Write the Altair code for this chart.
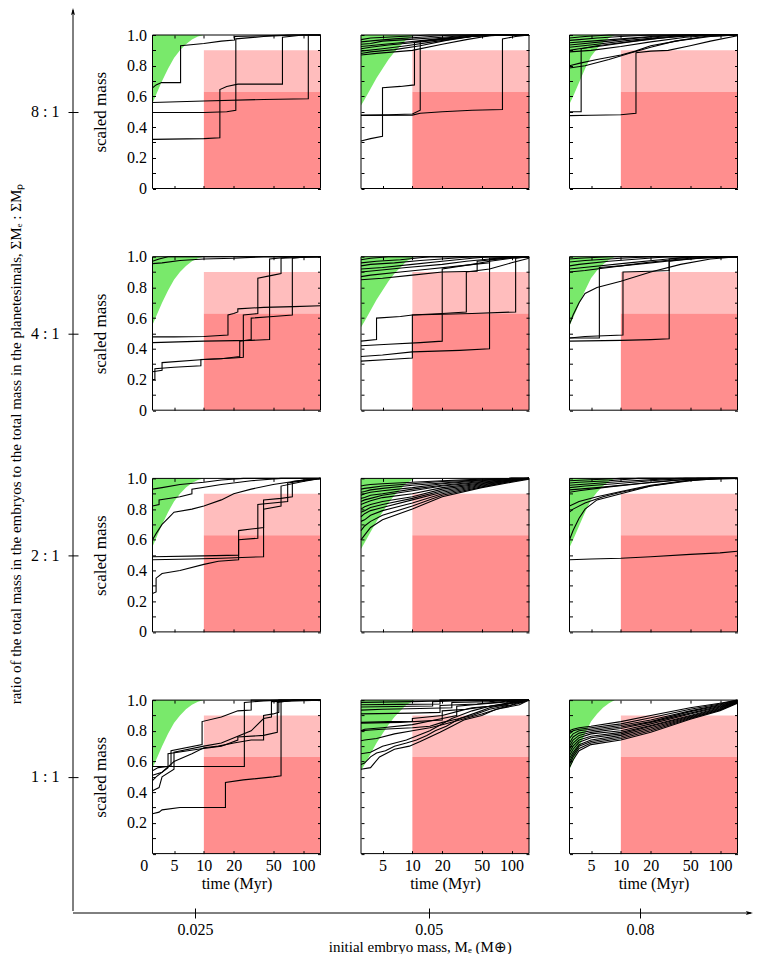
import math
import altair as alt
import pandas as pd

# ---------------- data ----------------
RATIOS = ["8 : 1", "4 : 1", "2 : 1", "1 : 1"]
MASSES = [0.025, 0.05, 0.08]
TIME_TICKS = [5, 10, 20, 50, 100]
T_RANGE = [1.4, 150]
RED_T = [10, 150]
DARK_M = [0.0, 0.63]
LIGHT_M = [0.63, 0.90]

GREEN_025 = [(1.4, .555), (2, .61), (3, .70), (4, .78), (5, .85), (6, .90), (7, .94), (8, .97), (9, .99), (10, 1.0)]
GREEN_05 = [(1.4, .54), (2, .58), (3, .65), (4, .72), (5, .78), (6, .84), (7, .89), (8, .93), (9, .97), (10, .99), (10.5, 1.0)]
GREEN_08 = [(1.4, .55), (2, .60), (3, .69), (4, .78), (5, .86), (6, .91), (7, .95), (8, .98), (9, 1.0)]

R8_025 = [
    [(1.4, .655), (2, .675), (2.9, .69), (6.1, .69), (6.1, .93), (10, .945), (15, .96), (20.4, .967), (20.4, .99), (40, .995), (70, 1), (150, 1)],
    [(1.4, .56), (10, .57), (40, .58), (113, .585), (113, 1), (150, 1)],
    [(1.4, .495), (10, .495), (17, .50), (21, .51), (21, .975), (40, .99), (80, 1), (150, 1)],
    [(1.4, .32), (10, .325), (14.5, .33), (14.5, .645), (17, .665), (22, .68), (62, .68), (62, .985), (100, 1), (150, 1)],
]
R8_05 = [
    [(1.4, .97), (3, .98), (8, .99), (15, 1), (150, 1)],
    [(1.4, .955), (4, .965), (7, .975), (12, .985), (25, 1), (150, 1)],
    [(1.4, .94), (3, .945), (5, .96), (9, .97), (20, .985), (40, 1), (150, 1)],
    [(1.4, .925), (4, .935), (8, .95), (15, .97), (30, .99), (60, 1), (150, 1)],
    [(1.4, .91), (3, .92), (6, .935), (10, .95), (20, .97), (35, .985), (50, 1), (150, 1)],
    [(1.4, .895), (5, .91), (9, .93), (16, .955), (30, .98), (45, 1), (150, 1)],
    [(1.4, .88), (3, .89), (7, .905), (12, .93), (22, .965), (40, .99), (70, 1), (150, 1)],
    [(1.4, .87), (4, .88), (10, .90), (20, .94), (35, .97), (60, .995), (90, 1), (150, 1)],
    [(1.4, .31), (3, .325), (5, .34), (5, .657), (8, .665), (10.5, .675), (10.5, .955), (20, .975), (40, .99), (80, 1), (150, 1)],
    [(1.4, .478), (6, .48), (10, .485), (12, .51), (12, .96), (25, .98), (50, .995), (150, 1)],
    [(1.4, .476), (10, .478), (12, .49), (20, .50), (40, .51), (81, .515), (81, .975), (110, .99), (150, 1)],
]
R8_08 = [
    [(1.4, .50), (3.35, .50), (3.35, .91), (6, .93), (10, .95), (20, .975), (40, .99), (80, 1), (150, 1)],
    [(1.4, .475), (5, .477), (10, .48), (14.2, .49), (14.2, .885), (20, .895), (30, .90), (50, .93), (80, .96), (150, .995)],
    [(1.4, .80), (3, .815), (6, .84), (10, .87), (14, .895), (20, .93), (40, .965), (80, .99), (150, 1)],
    [(1.4, .785), (4, .80), (8, .84), (12, .88), (20, .92), (35, .96), (70, .99), (150, 1)],
    [(1.4, .98), (4, .99), (8, 1), (150, 1)],
    [(1.4, .965), (3, .97), (6, .98), (10, .99), (20, 1), (150, 1)],
    [(1.4, .95), (5, .96), (10, .975), (20, .99), (35, 1), (150, 1)],
    [(1.4, .935), (4, .945), (8, .96), (15, .98), (30, .995), (50, 1), (150, 1)],
    [(1.4, .92), (6, .94), (12, .965), (25, .985), (50, 1), (150, 1)],
    [(1.4, .90), (3, .91), (7, .93), (14, .96), (30, .985), (60, 1), (150, 1)],
    [(1.4, .89), (5, .90), (10, .925), (20, .955), (45, .985), (90, 1), (150, 1)],
]
R4_025 = [
    [(1.4, .97), (2.5, .985), (4, 1), (150, 1)],
    [(1.4, .955), (3, .96), (6, .975), (10, .985), (20, .99), (40, 1), (150, 1)],
    [(1.4, .478), (5, .478), (10, .48), (17.5, .49), (17.5, .62), (20, .63), (22, .64), (22, .66), (40, .67), (80, .675), (150, .68)],
    [(1.4, .44), (10, .45), (30, .455), (46, .46), (46, .985), (80, 1), (150, 1)],
    [(1.4, .20), (1.8, .20), (1.8, .27), (5, .28), (9.5, .29), (9.5, .33), (15, .335), (23, .35), (23, .45), (30, .46), (30, .60), (50, .61), (78, .62), (78, .99), (110, 1), (150, 1)],
    [(1.4, .25), (3, .26), (3, .31), (10, .33), (20, .34), (25, .345), (25, .62), (35, .63), (35, .86), (50, .88), (60, .89), (60, .99), (150, 1)],
]
R4_05 = [
    [(1.4, .45), (4, .46), (4, .60), (8, .61), (10, .62), (40, .63), (110, .64), (110, .99), (150, 1)],
    [(1.4, .42), (6, .43), (12, .44), (20, .45), (20, .92), (40, .95), (60, .97), (100, .99), (150, 1)],
    [(1.4, .35), (5, .36), (10, .38), (30, .39), (60, .40), (60, .98), (100, .995), (150, 1)],
    [(1.4, .32), (6, .33), (10, .34), (10, .62), (20, .63), (35, .64), (35, .90), (60, .92), (100, .96), (150, .99)],
    [(1.4, .98), (3, .99), (6, 1), (150, 1)],
    [(1.4, .96), (4, .97), (8, .98), (15, 1), (150, 1)],
    [(1.4, .94), (3, .95), (7, .96), (12, .975), (25, .99), (40, 1), (150, 1)],
    [(1.4, .92), (5, .93), (10, .95), (20, .97), (40, .99), (60, 1), (150, 1)],
    [(1.4, .90), (4, .91), (9, .93), (20, .95), (35, .97), (60, .985), (100, 1), (150, 1)],
    [(1.4, .87), (3, .88), (8, .90), (15, .92), (30, .94), (60, .96), (60, .99), (150, 1)],
    [(1.4, .85), (5, .86), (10, .88), (20, .90), (45, .905), (45, .97), (90, .99), (150, 1)],
]
R4_08 = [
    [(1.4, .47), (6.4, .47), (6.4, .93), (10, .94), (20, .96), (40, .98), (80, .995), (150, 1)],
    [(1.4, .45), (10, .455), (20, .46), (30.7, .465), (30.7, .985), (60, 1), (150, 1)],
    [(1.4, .47), (4, .48), (10.5, .49), (10.5, .90), (20, .905), (30.7, .91), (30.7, .97), (60, .99), (150, 1)],
    [(1.4, .56), (2, .62), (3, .70), (4, .76), (6, .80), (10, .84), (20, .90), (40, .95), (80, .985), (150, 1)],
    [(1.4, .985), (3, .99), (8, 1), (150, 1)],
    [(1.4, .965), (4, .975), (10, .99), (20, 1), (150, 1)],
    [(1.4, .94), (3, .95), (8, .97), (15, .985), (30, 1), (150, 1)],
    [(1.4, .92), (5, .935), (12, .96), (25, .98), (50, 1), (150, 1)],
    [(1.4, .90), (4, .91), (10, .94), (20, .965), (40, .985), (80, 1), (150, 1)],
]
R2_025 = [
    [(1.4, .93), (3, .94), (6, .96), (10, .975), (15, .99), (25, 1), (150, 1)],
    [(1.4, .82), (2.5, .83), (2.5, .86), (6, .88), (8, .90), (8, .93), (15, .96), (30, .985), (60, 1), (150, 1)],
    [(1.4, .60), (2, .64), (3, .70), (4, .74), (5, .78), (8, .80), (10, .82), (15, .86), (20, .90), (30, .93), (50, .96), (100, .99), (150, 1)],
    [(1.4, .49), (10, .495), (22.4, .50), (22.4, .66), (30, .67), (40, .68), (40, .86), (60, .87), (78, .88), (78, .98), (150, 1)],
    [(1.4, .47), (8, .475), (15, .48), (40, .49), (40, .80), (60, .82), (60, .95), (100, .98), (150, 1)],
    [(1.4, .25), (2, .26), (2, .35), (3, .38), (6, .40), (10, .44), (14, .46), (22.4, .47), (22.4, .60), (35, .61), (35, .83), (70, .85), (70, .97), (150, 1)],
]
R2_05 = [
    [(1.4, .95), (2, .955), (3, .96), (5, .965), (10, .975), (20, .985), (50, .995), (100, 1), (150, 1)],
    [(1.4, .93), (2, .935), (3, .94), (5, .95), (10, .965), (20, .98), (50, .99), (100, 1), (150, 1)],
    [(1.4, .91), (2, .915), (3, .925), (5, .935), (10, .955), (20, .97), (50, .99), (100, 1), (150, 1)],
    [(1.4, .89), (2, .90), (3, .91), (5, .92), (10, .94), (20, .965), (50, .985), (100, 1), (150, 1)],
    [(1.4, .87), (2, .875), (3, .89), (5, .90), (10, .93), (20, .955), (50, .98), (100, .995), (150, 1)],
    [(1.4, .85), (2, .86), (3, .87), (5, .89), (10, .92), (20, .95), (50, .975), (100, .995), (150, 1)],
    [(1.4, .83), (2, .84), (3, .855), (5, .875), (10, .90), (20, .94), (50, .97), (100, .99), (150, 1)],
    [(1.4, .80), (2, .815), (3, .83), (5, .85), (10, .88), (20, .93), (50, .965), (100, .99), (150, 1)],
    [(1.4, .78), (2, .79), (3, .81), (5, .83), (10, .87), (20, .92), (50, .96), (100, .985), (150, 1)],
    [(1.4, .75), (2, .77), (3, .79), (5, .81), (10, .86), (20, .91), (50, .955), (100, .985), (150, 1)],
    [(1.4, .72), (2, .73), (3, .76), (5, .79), (10, .84), (20, .90), (50, .95), (100, .98), (150, 1)],
    [(1.4, .66), (2, .69), (3, .72), (5, .76), (10, .82), (20, .89), (50, .945), (100, .98), (150, 1)],
    [(1.4, .60), (2, .63), (3, .68), (5, .73), (10, .80), (20, .88), (50, .94), (100, .975), (150, .995)],
]
R2_08 = [
    [(1.4, .60), (2, .66), (3, .74), (4, .80), (6, .86), (10, .90), (20, .95), (50, .985), (100, 1), (150, 1)],
    [(1.4, .78), (2, .80), (4, .84), (7, .88), (10, .91), (20, .95), (40, .98), (80, 1), (150, 1)],
    [(1.4, .82), (3, .85), (6, .88), (10, .915), (20, .955), (50, .99), (150, 1)],
    [(1.4, .47), (5, .475), (10, .48), (20, .49), (50, .505), (100, .515), (150, .525)],
    [(1.4, .985), (4, .99), (10, 1), (150, 1)],
    [(1.4, .97), (3, .975), (8, .985), (15, 1), (150, 1)],
    [(1.4, .955), (5, .965), (10, .98), (25, .995), (40, 1), (150, 1)],
    [(1.4, .94), (4, .95), (9, .965), (20, .985), (45, 1), (150, 1)],
    [(1.4, .925), (6, .94), (12, .96), (30, .985), (60, 1), (150, 1)],
    [(1.4, .91), (3, .92), (8, .945), (18, .97), (40, .99), (80, 1), (150, 1)],
]
R1_025 = [
    [(1.4, .567), (25.6, .567), (25.6, .985), (40, .995), (60, 1), (150, 1)],
    [(1.4, .54), (2.35, .56), (4.5, .57), (4.5, .67), (9.7, .71), (9.7, .86), (15, .89), (22, .93), (30, .935), (30, 1), (150, 1)],
    [(1.4, .51), (3, .53), (5, .60), (8, .65), (10, .69), (14, .70), (20, .72), (30, .74), (40, .74), (40, .90), (50, .91), (57, .92), (57, 1), (150, 1)],
    [(1.4, .475), (2, .50), (4, .56), (4, .65), (9, .68), (15, .70), (22, .74), (22, .76), (40, .77), (55, .79), (55, .985), (80, 1), (150, 1)],
    [(1.4, .41), (2.5, .43), (3, .50), (5, .55), (5, .66), (10, .70), (15, .72), (30, .80), (40, .88), (48, .89), (48, .99), (150, 1)],
    [(1.4, .26), (2.5, .27), (3, .285), (6, .30), (16.5, .30), (16.5, .463), (25, .48), (50, .50), (60, .507), (60, .99), (80, 1), (150, 1)],
]
R1_05 = [
    [(1.4, .985), (10, .99), (19, .995), (19, 1), (150, 1)],
    [(1.4, .97), (8, .972), (19, .975), (19, 1), (150, 1)],
    [(1.4, .955), (10, .96), (16, .962), (16, .99), (40, 1), (150, 1)],
    [(1.4, .935), (5, .94), (12, .945), (25, .95), (25, .985), (60, .99), (100, 1), (150, 1)],
    [(1.4, .91), (10, .915), (19, .92), (19, .965), (45, .975), (70, .985), (110, 1), (150, 1)],
    [(1.4, .855), (6, .86), (10, .862), (10, .88), (20, .90), (30, .93), (40, .95), (60, .96), (100, .98), (130, .985), (130, 1), (150, 1)],
    [(1.4, .85), (8, .855), (20, .87), (20, .93), (35, .94), (60, .96), (90, .965), (90, .99), (150, 1)],
    [(1.4, .80), (3, .805), (5, .81), (10, .82), (15, .83), (20, .855), (30, .88), (40, .90), (60, .94), (100, .97), (140, 1), (150, 1)],
    [(1.4, .735), (2, .74), (4, .75), (7, .78), (10, .80), (15, .82), (20, .84), (30, .87), (50, .91), (80, .95), (120, .98), (150, 1)],
    [(1.4, .58), (2, .59), (3, .63), (4, .655), (5.5, .67), (7, .70), (9, .72), (11, .74), (14, .77), (17, .80), (22, .83), (30, .88), (45, .92), (60, .95), (110, .985), (140, 1), (150, 1)],
    [(1.4, .55), (3, .56), (4.5, .63), (7, .68), (9.5, .70), (12, .73), (15, .76), (19, .79), (25, .83), (33, .87), (50, .90), (70, .94), (120, .97), (150, 1)],
    [(1.4, .65), (3, .66), (5, .70), (9, .74), (15, .80), (25, .88), (40, .93), (60, .96), (100, .985), (150, 1)],
    [(1.4, .80), (2, .81), (5, .82), (10, .84), (20, .88), (28, .90), (28, .96), (50, .975), (100, .99), (150, 1)],
]
R1_08 = [
    [(1.4, .80), (2, .81), (3, .82), (5, .83), (10, .86), (20, .90), (50, .95), (100, .98), (150, 1)],
    [(1.4, .78), (2, .80), (3, .81), (5, .82), (10, .845), (20, .885), (50, .94), (100, .975), (150, 1)],
    [(1.4, .75), (2, .78), (3, .80), (5, .81), (10, .835), (20, .87), (50, .93), (100, .97), (150, .995)],
    [(1.4, .72), (2, .76), (3, .785), (5, .80), (10, .825), (20, .86), (50, .925), (100, .965), (150, .995)],
    [(1.4, .70), (2, .74), (3, .77), (5, .79), (10, .815), (20, .855), (50, .915), (100, .96), (150, .99)],
    [(1.4, .68), (2, .72), (3, .755), (5, .78), (10, .80), (20, .845), (50, .91), (100, .955), (150, .99)],
    [(1.4, .66), (2, .70), (3, .74), (5, .765), (10, .79), (20, .835), (50, .90), (100, .95), (150, .99)],
    [(1.4, .64), (2, .68), (3, .725), (5, .755), (10, .78), (20, .83), (50, .895), (100, .945), (150, .99)],
    [(1.4, .62), (2, .66), (3, .71), (5, .74), (10, .77), (20, .82), (50, .89), (100, .94), (150, .985)],
    [(1.4, .60), (2, .645), (3, .70), (5, .73), (10, .76), (20, .81), (50, .885), (100, .935), (150, .985)],
    [(1.4, .58), (2, .63), (3, .685), (5, .72), (10, .75), (20, .80), (50, .88), (100, .935), (150, .985)],
    [(1.4, .56), (2, .61), (3, .67), (5, .71), (10, .74), (20, .79), (50, .875), (100, .93), (150, .98)],
]

PANELS = [
    [R8_025, R8_05, R8_08],
    [R4_025, R4_05, R4_08],
    [R2_025, R2_05, R2_08],
    [R1_025, R1_05, R1_08],
]
GREENS = [GREEN_025, GREEN_05, GREEN_08]

TITLE_Y = "ratio of the total mass in the embryos to the total mass in the planetesimals, ΣMₑ : ΣMₚ"
TITLE_X = "initial embryo mass, Mₑ (M⊕)"

# ---------------- style / layout ----------------
FONT = "Liberation Serif"
GREEN = "#79e96b"
PINK = "#ffbdbd"
RED = "#ff8e8e"
TICK_FS = 16
PW, PH = 168, 153.5
COL_SP, ROW_SP = 40.5, 67.7
GRID_H = 4 * PH + 3 * ROW_SP
LW = 79 - COL_SP          # width of the cells that carry the ratio axis
ARROW_UP = 27             # how far the vertical arrow rises above the top panel
BOT_GAP = 58.9            # distance from bottom panels to the horizontal arrow
ARROW_Y = BOT_GAP - ROW_SP
BH, BW = 1, 680
K = 16.6  # px-per-decade factor of the hybrid linear/log time axis


def u(t):
    return t if t <= 10 else 10 + K * math.log10(t / 10)


def uexpr(f):
    return f"datum.{f} <= 10 ? datum.{f} : 10 + {K} * log(datum.{f} / 10) / LN10"


XDOM = [u(T_RANGE[0]), u(T_RANGE[1])]
XVALS = [u(v) for v in TIME_TICKS]
YVALS = [round(i * 0.1, 1) for i in range(11)]
XLABEL = f"datum.value <= 10.01 ? format(datum.value, 'd') : format(round(10 * pow(10, (datum.value - 10) / {K})), 'd')"


def ylabel(show_zero):
    z = "'0'" if show_zero else "''"
    return f"round(datum.value * 10) % 2 == 1 ? '' : (datum.value < 0.05 ? {z} : format(datum.value, '.1f'))"


def curves_df(curves):
    recs = []
    for ci, pts in enumerate(curves):
        for i, (t, m) in enumerate(pts):
            recs.append({"curve": ci, "i": i, "t": t, "m": m})
    return pd.DataFrame(recs)


def panel(ri, ci):
    first_col = ci == 0
    last_row = ri == 3
    xs = alt.Scale(domain=XDOM, nice=False, zero=False)
    ys = alt.Scale(domain=[0, 1], nice=False, zero=False)
    common = dict(domain=False, grid=False, ticks=True, tickSize=3, offset=-3,
                  tickColor="black", zindex=1, labelOverlap=False, labelBound=False)
    xb = alt.Axis(orient="bottom", values=XVALS, labels=last_row, labelExpr=XLABEL,
                  labelPadding=4, labelFontSize=TICK_FS, titlePadding=2, titleFontSize=16,
                  title="time (Myr)" if last_row else None, **common)
    xt = alt.Axis(orient="top", values=XVALS, labels=False, title=None, **common)
    yl = alt.Axis(orient="left", values=YVALS, labels=first_col, labelExpr=ylabel(not last_row),
                  labelPadding=6, labelFontSize=TICK_FS, titlePadding=17, titleFontSize=17,
                  title="scaled mass" if first_col else None, **common)
    yr = alt.Axis(orient="right", values=YVALS, labels=False, title=None, **common)

    g = pd.DataFrame(GREENS[ci], columns=["t", "m"])
    g["top"] = 1.0
    green = alt.Chart(g).transform_calculate(u=uexpr("t")).mark_area(color=GREEN).encode(
        x=alt.X("u:Q", scale=xs, axis=xb),
        y=alt.Y("m:Q", scale=ys, axis=yl),
        y2="top:Q",
    )
    rd = pd.DataFrame({"kind": ["light", "dark"], "t0": [RED_T[0]] * 2, "t1": [RED_T[1]] * 2,
                       "m0": [LIGHT_M[0], DARK_M[0]], "m1": [LIGHT_M[1], DARK_M[1]]})
    reds = alt.Chart(rd).transform_calculate(u0=uexpr("t0"), u1=uexpr("t1")).mark_rect().encode(
        x=alt.X("u0:Q", scale=xs, axis=xt),
        x2="u1:Q",
        y=alt.Y("m0:Q", scale=ys, axis=yr),
        y2="m1:Q",
        color=alt.Color("kind:N", scale=alt.Scale(domain=["light", "dark"], range=[PINK, RED]), legend=None),
    )
    lines = alt.Chart(curves_df(PANELS[ri][ci])).transform_calculate(u=uexpr("t")).mark_line(
        color="black", strokeWidth=1.1).encode(
        x=alt.X("u:Q", scale=xs, axis=None),
        y=alt.Y("m:Q", scale=ys, axis=None),
        detail="curve:N",
        order="i:Q",
    )
    frame = alt.Chart(pd.DataFrame({"k": [0]})).mark_rect(fillOpacity=0, stroke="black", strokeWidth=1).encode(
        x=alt.value(0), x2=alt.value(PW), y=alt.value(0), y2=alt.value(PH)
    )
    layers = [green, reds, lines, frame]
    if first_col and last_row:
        zero = alt.Chart(pd.DataFrame({"t": [0]})).transform_calculate(u=uexpr("t")).mark_text(
            baseline="top", fontSize=TICK_FS, font=FONT, color="black").encode(
            x=alt.X("u:Q", scale=xs, axis=None), y=alt.value(PH + 4), text=alt.value("0"))
        layers.append(zero)
    return alt.layer(*layers).resolve_axis(x="independent", y="independent").properties(width=PW, height=PH)


one = pd.DataFrame({"k": [0]})


def left_cell(ri):
    axis_kw = dict(orient="left", domain=False, ticks=True, tickSize=10, offset=-5, tickColor="black",
                   labelPadding=9, labelFontSize=16, labelAngle=0)
    if ri == 0:
        axis_kw.update(title=TITLE_Y, titleFontSize=15, titlePadding=7, titleY=GRID_H / 2)
    else:
        axis_kw.update(title=None)
    pts = alt.Chart(pd.DataFrame({"ratio": [RATIOS[ri]]})).mark_point(opacity=0).encode(
        y=alt.Y("ratio:N", scale=alt.Scale(type="point", padding=0.5), axis=alt.Axis(**axis_kw))
    )
    layers = [pts]
    if ri == 0:
        vline = alt.Chart(one).mark_rule(color="black", strokeWidth=1).encode(
            x=alt.value(0), y=alt.value(-ARROW_UP + 2), y2=alt.value(GRID_H + BOT_GAP))
        vhead = alt.Chart(one).mark_point(shape="M0,-1L0.5,0.8L0,0.4L-0.5,0.8Z", filled=True, color="black",
                                          opacity=1, size=64).encode(x=alt.value(0), y=alt.value(-ARROW_UP + 4))
        layers += [vline, vhead]
    return alt.layer(*layers).properties(width=LW, height=PH)


# bottom cell: narrow cell whose sqrt scale spans the full arrow length
bot_pts = alt.Chart(pd.DataFrame({"mass": MASSES})).mark_point(opacity=0).encode(
    x=alt.X("mass:Q", scale=alt.Scale(type="sqrt", domain=[0.01536, 0.0989], range=[0, BW],
                                      zero=False, nice=False),
            axis=alt.Axis(orient="bottom", values=MASSES, labelExpr="format(datum.value, '.3~f')",
                          domain=False, grid=False, ticks=True, tickSize=10, offset=ARROW_Y - 5 - BH,
                          tickColor="black", labelPadding=3, labelFontSize=16, title=TITLE_X,
                          titleFontSize=15, titlePadding=2, titleX=BW * 0.51, labelOverlap=False,
                          labelBound=False, labelFlush=False))
)
hline = alt.Chart(one).mark_rule(color="black", strokeWidth=1).encode(
    x=alt.value(0), x2=alt.value(BW - 2), y=alt.value(ARROW_Y))
hhead = alt.Chart(one).mark_point(shape="M1,0L-0.8,0.5L-0.4,0L-0.8,-0.5Z", filled=True, color="black",
                                  opacity=1, size=64).encode(x=alt.value(BW - 4), y=alt.value(ARROW_Y))
bottom = alt.layer(bot_pts, hline, hhead).properties(width=LW, height=BH)

cells = []
for r in range(4):
    cells.append(left_cell(r))
    cells += [panel(r, c) for c in range(3)]
cells.append(bottom)

chart = alt.concat(*cells, columns=4, spacing={"row": ROW_SP, "column": COL_SP},
                   bounds="flush", align="each").properties(padding=0).configure_view(
    strokeWidth=0
).configure_axis(
    labelFont=FONT, titleFont=FONT, labelColor="black", titleColor="black", titleFontWeight="normal",
    grid=False
).configure_text(font=FONT)

chart.save("out.html", embed_options={"renderer": "svg", "actions": False})
